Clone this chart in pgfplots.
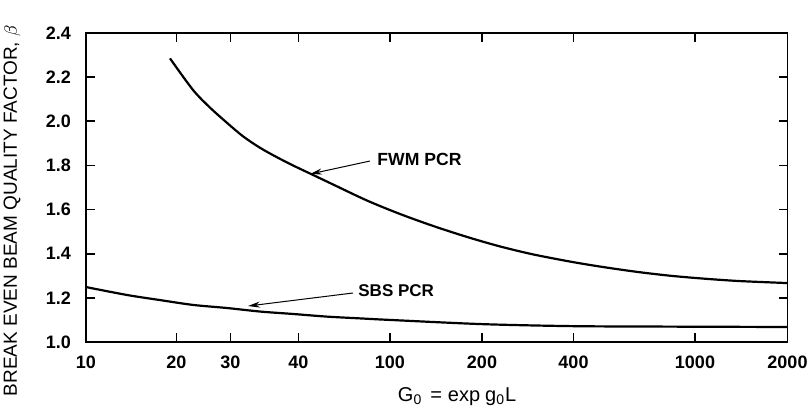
\documentclass[border=0pt]{standalone}
\usepackage{fontspec}
\setmainfont{Liberation Sans}
\usepackage{pgfplots}
\pgfplotsset{compat=1.18}
\usetikzlibrary{arrows.meta}

% x is the position along the (irregular) G0 scale of the original plot
\begin{document}
\begin{tikzpicture}
\useasboundingbox (-43pt,-33pt) rectangle (362pt,171pt);
\begin{axis}[
    scale only axis,
    width=350.75pt, height=154.5pt,
    xmin=0, xmax=701.5, ymin=1, ymax=2.4,
    xtick={0,90.5,144.5,212.5,304,396,487.5,609,701.5},
    xticklabels={10,20,30,40,100,200,400,1000,2000},
    ytick={1,1.2,1.4,1.6,1.8,2,2.2,2.4},
    yticklabels={1.0,1.2,1.4,1.6,1.8,2.0,2.2,2.4},
    tick align=inside, tick pos=both,
    major tick length=4.5pt,
    axis line style={line width=0.9pt},
    every tick/.style={black, line width=0.8pt},
    ticklabel style={font=\bfseries\fontsize{9}{10}\selectfont},
    xticklabel style={yshift=-3.5pt},
    yticklabel style={xshift=-4pt},
    xlabel={G\textsubscript{0}\hspace{4pt}=\hspace{3pt}exp\hspace{2.5pt}g\textsubscript{0}L},
    xlabel style={at={(rel axis cs:0.529,0)}, anchor=north, yshift=-19pt,
        font=\fontsize{10}{11}\selectfont},
    ylabel={BREAK EVEN BEAM QUALITY FACTOR, $\beta$},
    ylabel style={at={(axis description cs:-0.1055,0.425)}, anchor=center,
        font=\fontsize{9.5}{11}\selectfont},
]
% FWM PCR
\addplot[black, line width=1.1pt, smooth] coordinates {
    (84,2.285) (107,2.142) (124,2.062) (141,1.993) (157,1.932)
    (174,1.880) (191,1.837) (207,1.800) (227,1.757) (246,1.716)
    (281,1.641) (314,1.580) (347,1.526) (381,1.476) (414,1.433)
    (447,1.397) (487,1.362) (521,1.337) (554,1.316) (587,1.299)
    (621,1.286) (654,1.276) (701.5,1.267)
};
% SBS PCR
\addplot[black, line width=1.1pt, smooth] coordinates {
    (0,1.249) (41,1.213) (74,1.190) (107,1.168) (141,1.154)
    (174,1.138) (207,1.127) (241,1.115) (274,1.107) (304,1.100)
    (396,1.081) (484,1.072) (564,1.070) (701.5,1.068)
};
\draw[-{Stealth[length=6pt,width=3pt]}, line width=0.5pt]
    (axis cs:284,1.820) -- (axis cs:224,1.761);
\node[anchor=west, inner sep=0pt, font=\bfseries\fontsize{8.8}{10}\selectfont]
    at (axis cs:291,1.825) {FWM PCR};
\draw[-{Stealth[length=6pt,width=3pt]}, line width=0.5pt]
    (axis cs:267,1.222) -- (axis cs:162,1.163);
\node[anchor=west, inner sep=0pt, font=\bfseries\fontsize{8.5}{10}\selectfont]
    at (axis cs:272,1.231) {SBS PCR};
\end{axis}
\end{tikzpicture}
\end{document}
